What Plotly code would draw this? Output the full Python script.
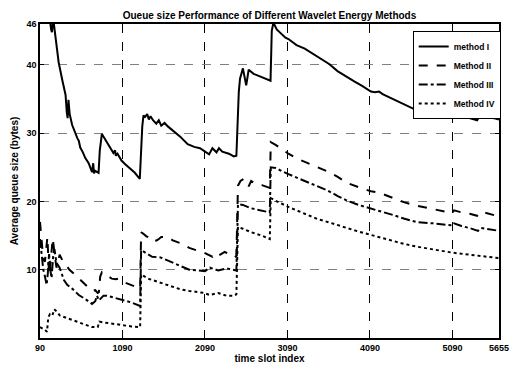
import plotly.graph_objects as go

# ---------------- data ----------------
m1_x = [150, 200, 225, 235, 250, 280, 316, 360, 400, 415, 425, 435, 450, 480, 519, 545, 560, 578, 610, 638,
        680, 721, 735, 745, 757, 780, 800, 815, 840, 870, 920, 950, 980, 1000, 1010, 1030, 1078, 1120, 1180,
        1240, 1300, 1310, 1330, 1345, 1365, 1390, 1410, 1430, 1460, 1500, 1530, 1560, 1600, 1640, 1700, 1790,
        1880, 1960, 2030, 2100, 2140, 2180, 2230, 2260, 2300, 2380, 2440, 2471, 2485, 2500, 2515, 2550, 2590,
        2620, 2680, 2760, 2860, 2885, 2900, 2920, 2960, 3000, 3066, 3102, 3200, 3300, 3388, 3500, 3600, 3697,
        3800, 3900, 4000, 4102, 4150, 4200, 4250, 4376, 4500, 4614, 4700, 4852, 4950, 5050, 5090, 5110, 5200,
        5300, 5390, 5430, 5460, 5520, 5600, 5655]
m1_y = [50, 47.5, 45.2, 44.8, 46.8, 44, 40.4, 37.8, 35.6, 33, 32.2, 34.9, 32.8, 31.2, 29.9, 29.2, 28.9, 27.9, 27.2, 26.4,
        25.6, 24.3, 25.6, 24.1, 24.5, 24.3, 24.2, 27.5, 29.9, 29.3, 28.3, 27.8, 27.1, 27.5, 26.7, 27.0, 26.0, 25.5, 24.8,
        24.2, 23.3, 26, 31.0, 32.6, 32.4, 32.8, 32.0, 32.5, 31.9, 31.4, 31.9, 31.1, 31.5, 31.0, 30.4, 29.5,
        28.4, 28.0, 27.8, 27.3, 26.9, 27.8, 27.2, 27.8, 27.3, 27.0, 26.6, 26.7, 32.6, 36, 38.0, 39.5, 37.0,
        39.3, 38.7, 38.3, 37.8, 37.7, 45.0, 46.2, 45.2, 44.8, 44.0, 43.8, 42.9, 42.4, 41.7, 40.9, 40.1, 39.1,
        38.4, 37.6, 36.9, 36.1, 36.0, 36.1, 35.7, 35.0, 34.3, 33.6, 33.3, 32.9, 32.7, 32.5, 32.2, 32.9, 32.6,
        32.3, 31.9, 32.7, 32.8, 32.3, 32.2, 32.0]

m2_x = [90, 110, 130, 150, 165, 180, 195, 205, 225, 245, 265, 290, 328, 360, 400, 447, 520, 602, 660, 721, 760, 790,
        804, 820, 840, 870, 920, 960, 1007, 1040, 1078, 1150, 1230, 1304, 1316, 1340, 1380, 1430, 1470, 1520, 1560,
        1638, 1700, 1792, 1900, 2000, 2078, 2180, 2210, 2260, 2330, 2400, 2447, 2471, 2490, 2520, 2560, 2600, 2620,
        2650, 2700, 2780, 2876, 2888, 2947, 3030, 3102, 3220, 3340, 3460, 3578, 3700, 3816, 3950, 4102, 4200, 4300,
        4376, 4500, 4650, 4852, 4950, 5090, 5110, 5200, 5300, 5390, 5440, 5500, 5600, 5655]
m2_y = [17, 14, 11.5, 11.2, 13.5, 14.8, 10.5, 9.2, 12, 14.6, 12.5, 10.3, 12.2, 11.4, 10.8, 10.0, 9.2, 8.3, 7.6, 6.9, 7.0, 6.6,
        6.7, 9.0, 9.6, 9.2, 9.0, 8.7, 8.6, 8.7, 8.3, 8.0, 7.6, 7.2, 15.5, 15.3, 14.9, 14.6, 14.1, 14.4, 14.8,
        14.8, 14.3, 13.9, 13.2, 12.8, 12.5, 11.9, 12.4, 12.1, 12.6, 12.2, 11.8, 12.0, 22.3, 23.0, 23.3, 22.8, 22.2,
        23.0, 22.6, 22.4, 22.0, 28.7, 28.3, 27.6, 27.0, 26.2, 25.6, 25.0, 24.4, 23.6, 22.7, 22.1, 21.5, 21.3, 20.8,
        20.5, 19.9, 19.4, 18.9, 18.7, 18.3, 18.7, 18.4, 18.2, 17.9, 18.5, 18.3, 18.0, 17.8]

m3_x = [90, 110, 130, 150, 170, 185, 200, 215, 230, 250, 265, 290, 328, 380, 420, 483, 560, 640, 721, 760, 780, 804,
        860, 900, 960, 1078, 1200, 1304, 1316, 1380, 1450, 1550, 1650, 1750, 1900, 2000, 2090, 2150, 2250, 2350,
        2447, 2471, 2490, 2550, 2650, 2780, 2876, 2888, 2947, 3102, 3220, 3340, 3460, 3578, 3700, 3816, 3950, 4102,
        4250, 4376, 4500, 4650, 4852, 5090, 5110, 5200, 5300, 5400, 5440, 5500, 5600, 5655]
m3_y = [14.5, 12.5, 10.0, 9.0, 7.8, 9.5, 12.3, 10, 8.8, 12, 13, 11, 10.3, 8.5, 7.8, 7.2, 6.3, 5.7, 5.0, 5.4, 6.2, 5.5,
        6.2, 6.2, 6.0, 5.7, 5.2, 4.7, 12.9, 12.4, 11.9, 11.8, 11.3, 10.8, 10.0, 9.9, 9.8, 10.3, 9.9, 10.2,
        9.9, 9.9, 19.6, 19.5, 19.0, 18.7, 18.4, 25.0, 24.9, 24.0, 23.4, 22.7, 22.1, 21.6, 20.8, 20.1, 19.5, 19.0,
        18.5, 18.0, 17.5, 17.0, 16.8, 16.5, 16.8, 16.4, 16.1, 15.7, 16.1, 16.0, 15.8, 15.7]

m4_x = [90, 120, 150, 175, 190, 210, 240, 262, 300, 330, 400, 500, 600, 720, 790, 810, 850, 900, 1000, 1100, 1200,
        1304, 1316, 1400, 1500, 1600, 1700, 1800, 1900, 2000, 2078, 2150, 2250, 2350, 2447, 2471, 2490, 2550, 2650,
        2780, 2876, 2888, 2947, 3102, 3220, 3340, 3460, 3578, 3700, 3816, 3950, 4102, 4250, 4376, 4500, 4650, 4852,
        5090, 5300, 5450, 5655]
m4_y = [1.6, 1.4, 1.2, 0.9, 3.0, 3.5, 3.3, 4.2, 3.8, 3.3, 3.0, 2.6, 2.1, 1.6, 1.6, 2.4, 2.3, 2.2, 2.0, 1.8, 1.7,
        1.6, 9.3, 8.7, 8.3, 7.9, 7.5, 7.1, 6.9, 6.7, 6.6, 6.3, 6.6, 6.2, 6.2, 6.4, 16.3, 16.0, 15.5,
        15.0, 14.5, 20.5, 20.1, 19.2, 18.6, 18.0, 17.4, 17.0, 16.5, 16.1, 15.6, 15.1, 14.6, 14.1, 13.8, 13.4, 13.0,
        12.5, 12.2, 12.0, 11.7]

names = ["method I", "Method II", "Method III", "Method IV"]
dashes = ["solid", "dash", "dashdot", "dot"]

x_ticks = [90, 1090, 2090, 3090, 4090, 5090, 5655]
y_ticks = [10, 20, 30, 40, 46]

title_text = "Oueue size Performance of Different Wavelet Energy Methods"
x_title = "time slot index"
y_title = "Average queue size (bytes)"

# ---------------- figure ----------------
FONT = "Arial, Liberation Sans, sans-serif"
fig = go.Figure()
for xs, ys, nm, ds in zip([m1_x, m2_x, m3_x, m4_x], [m1_y, m2_y, m3_y, m4_y], names, dashes):
    fig.add_trace(go.Scatter(x=xs, y=ys, mode="lines", name=nm,
                             line=dict(color="black", width=2, dash=ds)))

fig.update_layout(
    width=520, height=372,
    margin=dict(l=40, r=11, t=24, b=27),
    paper_bgcolor="white", plot_bgcolor="white",
    title=dict(text=title_text, x=0.5, xref="paper", y=1, yref="paper", yanchor="bottom",
               pad=dict(b=5), font=dict(family=FONT, size=10, color="black", weight="bold")),
    legend=dict(x=0.812, y=0.978, xanchor="left", yanchor="top",
                bgcolor="white", bordercolor="black", borderwidth=1,
                font=dict(family=FONT, size=8.5, color="black", weight="bold"),
                tracegroupgap=0, itemwidth=30),
    showlegend=True,
)
fig.update_xaxes(range=[90, 5655], tickvals=x_ticks, ticktext=[str(v) for v in x_ticks],
                 showgrid=True, gridcolor="black", griddash="dash", gridwidth=1,
                 showline=True, linecolor="black", linewidth=1.5, mirror="ticks",
                 ticks="inside", ticklen=4, tickcolor="black", zeroline=False,
                 tickfont=dict(family=FONT, size=9, color="black", weight="bold"),
                 title=dict(text=x_title, standoff=1,
                            font=dict(family=FONT, size=10, color="black", weight="bold")))
fig.update_yaxes(range=[0, 46], tickvals=y_ticks, ticktext=[str(v) for v in y_ticks],
                 showgrid=True, gridcolor="#808080", griddash="dash", gridwidth=1,
                 showline=True, linecolor="black", linewidth=1.5, mirror="ticks",
                 ticks="inside", ticklen=4, tickcolor="black", zeroline=False,
                 tickfont=dict(family=FONT, size=9, color="black", weight="bold"),
                 title=dict(text=y_title, standoff=6,
                            font=dict(family=FONT, size=10, color="black", weight="bold")))

fig.write_html("out.html")
